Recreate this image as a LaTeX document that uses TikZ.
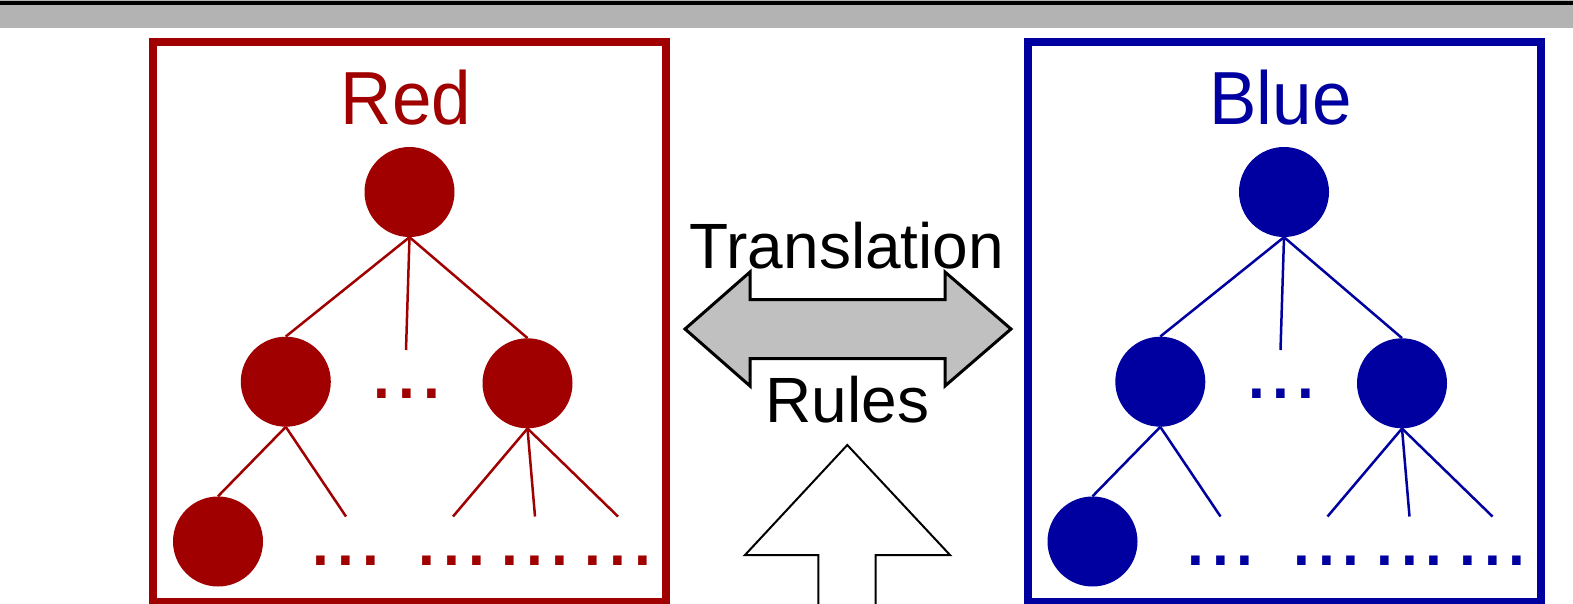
\documentclass[tikz,border=0pt]{standalone}
\usepackage{fontspec}
\setmainfont{Liberation Sans}
\definecolor{myred}{HTML}{A00000}
\definecolor{myblue}{HTML}{0000A0}
\definecolor{bandgrey}{HTML}{B3B3B3}
\definecolor{arrowgrey}{HTML}{C0C0C0}
\tikzset{
  treenode/.style={circle, fill=#1, draw=none, minimum size=90pt, inner sep=0pt},
  treeline/.style={draw=#1, line width=2.5pt},
  framebox/.style={draw=#1, line width=8pt},
  dotstext/.style={text=#1, font=\fontsize{89}{100}\selectfont, inner sep=0pt, anchor=base},
  titletext/.style={text=#1, font=\fontsize{71}{80}\selectfont, inner sep=0pt, anchor=base, yscale=1.06},
  midtext/.style={text=black, font=\fontsize{64}{70}\selectfont, inner sep=0pt, anchor=base},
  bigarrow/.style={draw=black, line width=3pt, fill=arrowgrey, line join=miter},
  uparrow/.style={draw=black, line width=2pt, fill=white, line join=miter},
}
\newcommand\mytree[4]{%
\begin{scope}[xshift=#3]
  \draw[framebox=#2] (153,41.7) rectangle (666,602);
  \node[titletext=#2] (#1title) at (406,125) {#4};
  \node[treenode=#2] (#1root) at (409.5,192) {};
  \node[treenode=#2] (#1left) at (285.8,381.7) {};
  \node[treenode=#2] (#1right) at (527.5,383.3) {};
  \node[treenode=#2] (#1leaf) at (218,541.5) {};
  \coordinate (#1stub) at (406,350);
  \coordinate (#1a) at (346,516.5);
  \coordinate (#1b) at (453,516.5);
  \coordinate (#1c) at (535,516.5);
  \coordinate (#1d) at (618,516.5);
  \draw[treeline=#2] (#1root.south) -- (#1left.north);
  \draw[treeline=#2] (#1root.south) -- (#1stub);
  \draw[treeline=#2] (#1root.south) -- (#1right.north);
  \draw[treeline=#2] (#1left.south) -- (#1leaf.north);
  \draw[treeline=#2] (#1left.south) -- (#1a);
  \draw[treeline=#2] (#1right.south) -- (#1b);
  \draw[treeline=#2] (#1right.south) -- (#1c);
  \draw[treeline=#2] (#1right.south) -- (#1d);
  \node[dotstext=#2] (#1dm) at (406.7,398) {...};
  \node[dotstext=#2] (#1da) at (346,565.7) {...};
  \node[dotstext=#2] (#1db) at (452,565.7) {...};
  \node[dotstext=#2] (#1dc) at (535,565.7) {...};
  \node[dotstext=#2] (#1dd) at (618,565.7) {...};
\end{scope}}
\begin{document}
\begin{tikzpicture}[x=1pt,y=-1pt]
  \useasboundingbox (0,0) rectangle (1573,604);
  \fill[white] (0,0) rectangle (1573,604);
  \fill[bandgrey] (0,0) rectangle (1573,28);
  \draw[black, line width=3.5pt] (0,3) -- (1573,3);
  \mytree{r}{myred}{0pt}{Red}
  \mytree{b}{myblue}{874.5pt}{Blue}
  \draw[bigarrow] (685,329) -- (750,272) -- (750,299.5) -- (945,299.5) -- (945,272)
     -- (1011,329) -- (945,386) -- (945,358.5) -- (750,358.5) -- (750,386) -- cycle;
  \node[midtext] (trans) at (847,268) {Translation};
  \node[midtext] (rules) at (847.5,422) {Rules};
  \draw[uparrow] (847.3,445) -- (950,555) -- (875.7,555) -- (875.7,612)
     -- (818.3,612) -- (818.3,555) -- (745,555) -- cycle;
\end{tikzpicture}
\end{document}
